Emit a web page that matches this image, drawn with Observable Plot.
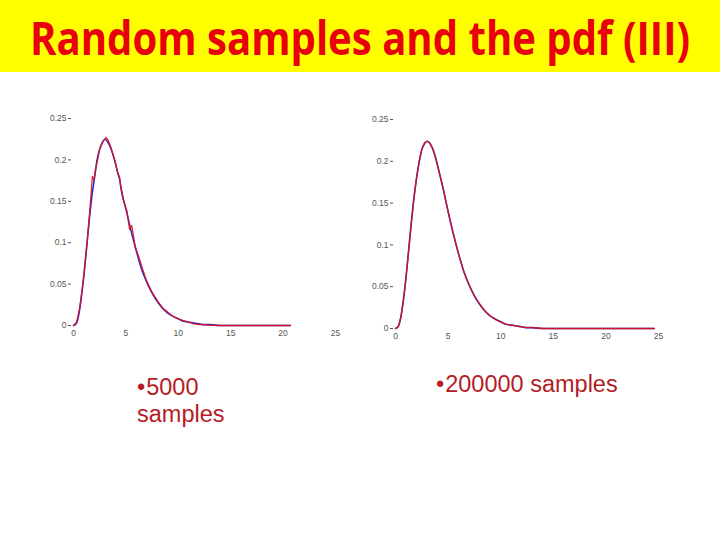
<!DOCTYPE html>
<html>
<head>
<meta charset="utf-8">
<script src="https://cdn.jsdelivr.net/npm/d3@7"></script>
<script src="https://cdn.jsdelivr.net/npm/@observablehq/plot@0.6"></script>
<style>
  html, body { margin: 0; padding: 0; background: #fff; }
  #page { position: relative; width: 720px; height: 540px; overflow: hidden; background: #fff; }
  #banner { position: absolute; left: 0; top: 0; width: 720px; height: 72px; background: #ffff00; }
  #title { position: absolute; left: 30px; top: 9px; white-space: nowrap; font-family: "Open Sans", sans-serif; font-weight: 700; font-size: 46px; color: #e8000b; transform-origin: 0 0; line-height: 56px; }
  .note { position: absolute; font-family: "Liberation Sans", Arial, sans-serif; font-size: 23.5px; color: #b51c24; line-height: 27px; white-space: nowrap; }
  .panel { position: absolute; }
</style>
</head>
<body>
<div id="page">
  <div id="banner"><div id="title">Random samples and the pdf (III)</div></div>
  <div id="left" class="panel" style="left:40px; top:100px;"></div>
  <div id="right" class="panel" style="left:360px; top:100px;"></div>
  <div class="note" style="left:137px; top:374px;"><span style="margin-right:1px">•</span>5000<br>samples</div>
  <div class="note" style="left:436px; top:371px;"><span style="margin-right:1px">•</span>200000 samples</div>
</div>
<script>
// Tick values
const xTicks = [0, 5, 10, 15, 20, 25];
const yTicks = [0, 0.05, 0.1, 0.15, 0.2, 0.25];

// Left panel (5000 samples): noisy sample curve (red)
const leftSampleX = [0, 0.3, 0.6, 1.0, 1.3, 1.6, 1.8, 1.95, 2.1, 2.3, 2.5, 2.8, 3.1, 3.3, 3.6, 3.9, 4.2, 4.4, 4.6, 4.8, 5.1, 5.35, 5.55, 5.7, 5.9, 6.2, 6.6, 7.0, 7.5, 8.0, 8.5, 9.0, 9.5, 10.0, 10.5, 11.0, 11.5, 12.0, 12.5, 13.0, 14, 15, 16, 17, 18, 19, 20, 20.7];
const leftSampleY = [0, 0.004, 0.022, 0.062, 0.100, 0.146, 0.180, 0.176, 0.188, 0.200, 0.213, 0.222, 0.227, 0.224, 0.214, 0.201, 0.186, 0.176, 0.163, 0.150, 0.138, 0.116, 0.121, 0.110, 0.094, 0.084, 0.068, 0.053, 0.040, 0.030, 0.021, 0.016, 0.011, 0.008, 0.006, 0.004, 0.002, 0.001, 0.001, 0.0005, 0, 0, 0, 0, 0, 0, 0, 0];
// Left panel: smoother curve (blue)
const leftPdfX = [0, 0.25, 0.5, 0.75, 1, 1.25, 1.5, 1.75, 2, 2.25, 2.5, 2.75, 3, 3.25, 3.5, 3.75, 4, 4.25, 4.4, 4.5, 5, 5.5, 6, 6.5, 7, 7.5, 8, 8.5, 9, 9.5, 10, 10.5, 11, 11.5, 12, 12.5, 13, 14, 15, 16, 17, 18, 19, 20, 20.7];
const leftPdfY = [0, 0.002, 0.013, 0.034, 0.061, 0.094, 0.127, 0.156, 0.178, 0.200, 0.213, 0.221, 0.225, 0.222, 0.216, 0.207, 0.196, 0.183, 0.178, 0.168, 0.141, 0.114, 0.090, 0.068, 0.052, 0.039, 0.029, 0.021, 0.015, 0.011, 0.008, 0.005, 0.004, 0.003, 0.002, 0.001, 0.001, 0, 0, 0, 0, 0, 0, 0, 0];

// Right panel (200000 samples)
const rightSampleX = [0, 0.25, 0.5, 0.75, 1, 1.25, 1.5, 1.75, 2, 2.25, 2.5, 2.75, 3, 3.25, 3.5, 3.75, 4, 4.25, 4.5, 5, 5.5, 6, 6.5, 7, 7.5, 8, 8.5, 9, 9.5, 10, 10.5, 11, 11.5, 12, 12.5, 13, 14, 15, 16, 17, 18, 19, 20, 21, 22, 23, 24, 24.6];
const rightSampleY = [0, 0.002, 0.013, 0.033, 0.061, 0.093, 0.126, 0.155, 0.180, 0.200, 0.214, 0.222, 0.224, 0.222, 0.216, 0.207, 0.195, 0.182, 0.169, 0.140, 0.113, 0.089, 0.068, 0.052, 0.039, 0.029, 0.021, 0.015, 0.011, 0.008, 0.005, 0.004, 0.003, 0.002, 0.001, 0.001, 0, 0, 0, 0, 0, 0, 0, 0, 0, 0, 0, 0];
const rightPdfX = rightSampleX;
const rightPdfY = [0, 0.002, 0.013, 0.034, 0.061, 0.094, 0.126, 0.156, 0.180, 0.199, 0.214, 0.221, 0.224, 0.222, 0.216, 0.207, 0.195, 0.182, 0.169, 0.140, 0.113, 0.089, 0.068, 0.052, 0.039, 0.029, 0.021, 0.015, 0.011, 0.008, 0.005, 0.004, 0.003, 0.002, 0.001, 0.001, 0, 0, 0, 0, 0, 0, 0, 0, 0, 0, 0, 0];

const yFmt = d => d === 0 ? "0" : String(+d.toFixed(2));

function panel(sx, sy, px, py, dims) {
  const samples = sx.map((x, i) => ({x, y: sy[i]}));
  const pdf = px.map((x, i) => ({x, y: py[i]}));
  return Plot.plot({
    width: dims.width, height: dims.height,
    marginLeft: dims.ml, marginRight: dims.mr, marginTop: dims.mt, marginBottom: dims.mb,
    x: {domain: [0, 25]},
    y: {domain: [0, 0.25]},
    style: {fontFamily: "'Liberation Sans', Arial, sans-serif", fontSize: "8.5px", color: "#555", background: "transparent", overflow: "visible"},
    marks: [
      Plot.axisX(xTicks, {tickSize: 0, tickPadding: 4, label: null, tickFormat: d => String(d)}),
      Plot.axisY(yTicks, {tickSize: 3, tickPadding: 2, dx: -2, label: null, tickFormat: yFmt}),
      Plot.line(pdf, {x: "x", y: "y", stroke: "#2a2ad0", strokeWidth: 1.6, curve: "monotone-x"}),
      Plot.line(samples, {x: "x", y: "y", stroke: "#e0101c", strokeWidth: 1.3, strokeOpacity: 0.9, curve: "linear"})
    ]
  });
}

document.getElementById("left").append(panel(leftSampleX, leftSampleY, leftPdfX, leftPdfY,
  {width: 305, height: 245, ml: 33, mr: 10, mt: 18, mb: 20}));
document.getElementById("right").append(panel(rightSampleX, rightSampleY, rightPdfX, rightPdfY,
  {width: 310, height: 245, ml: 35, mr: 12, mt: 19, mb: 17}));

// fit title width
const t = document.getElementById("title");
const w = t.getBoundingClientRect().width;
t.style.transform = `scaleX(${660 / w})`;
</script>
</body>
</html>
